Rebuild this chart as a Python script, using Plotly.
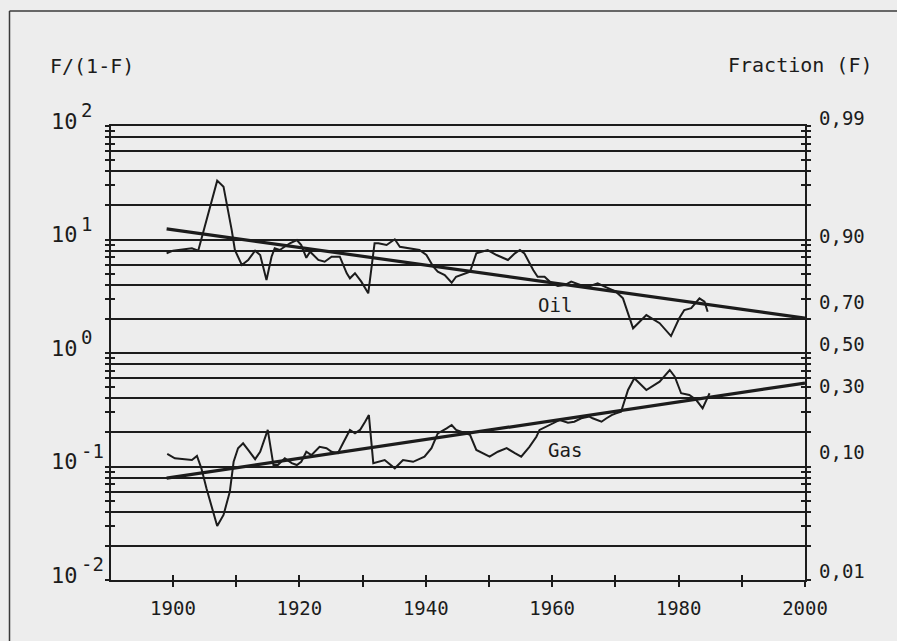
import math
import plotly.graph_objects as go

# ---------------- data ----------------
oil_years = [1899.0, 1900.0, 1903.0, 1904.0, 1907.0, 1908.0, 1909.3, 1909.8, 1910.9, 1911.9,
             1913.0, 1913.8, 1914.8, 1915.6, 1916.1, 1916.9, 1918.5, 1919.6, 1920.3, 1921.1,
             1921.7, 1923.0, 1924.0, 1925.1, 1926.4, 1927.5, 1928.0, 1928.8, 1929.8, 1930.6,
             1930.9, 1931.9, 1932.5, 1933.8, 1935.1, 1935.9, 1937.5, 1939.0, 1940.1, 1941.2,
             1941.9, 1943.0, 1944.1, 1944.8, 1947.0, 1948.0, 1949.8, 1951.2, 1953.0, 1954.1,
             1954.9, 1955.6, 1957.0, 1957.7, 1958.8, 1959.9, 1960.9, 1962.0, 1963.0, 1963.8,
             1964.9, 1965.7, 1967.2, 1968.3, 1969.4, 1970.1, 1971.2, 1972.8, 1974.9, 1977.0,
             1978.8, 1980.1, 1980.9, 1982.0, 1983.3, 1984.1, 1984.6]
oil_values = [7.55, 7.97, 8.37, 7.97, 33.0, 29.2, 12.1, 8.08, 5.96, 6.60,
              7.97, 7.30, 4.40, 7.05, 8.37, 8.08, 9.26, 9.90, 8.94, 6.90,
              7.81, 6.60, 6.37, 7.05, 7.05, 5.04, 4.55, 5.04, 4.25, 3.59,
              3.36, 9.26, 9.26, 8.94, 10.04, 8.64, 8.37, 8.08, 7.30, 5.76,
              5.20, 4.87, 4.16, 4.70, 5.20, 7.55, 8.08, 7.30, 6.60, 7.55,
              8.08, 7.55, 5.39, 4.70, 4.70, 4.11, 3.89, 3.97, 4.25, 4.11,
              3.89, 3.84, 4.11, 3.84, 3.64, 3.47, 3.03, 1.65, 2.16, 1.83,
              1.41, 2.02, 2.39, 2.48, 3.03, 2.83, 2.31]

gas_years = [1899.1, 1900.3, 1903.0, 1903.8, 1904.5, 1905.3, 1907.0, 1908.0, 1909.0, 1909.6,
             1910.3, 1911.1, 1911.9, 1913.0, 1913.8, 1915.0, 1915.9, 1916.6, 1917.7, 1918.8,
             1919.6, 1920.3, 1921.1, 1921.9, 1923.2, 1924.3, 1925.1, 1926.1, 1926.9, 1928.0,
             1928.8, 1929.6, 1930.4, 1931.0, 1931.7, 1932.5, 1933.5, 1935.1, 1936.4, 1938.0,
             1939.8, 1940.9, 1941.9, 1943.3, 1944.1, 1944.8, 1947.0, 1948.0, 1949.1, 1950.1,
             1951.4, 1952.8, 1954.1, 1955.1, 1956.4, 1957.5, 1958.0, 1959.6, 1961.2, 1962.5,
             1963.5, 1964.6, 1965.9, 1966.4, 1967.8, 1968.6, 1969.4, 1970.1, 1970.9, 1972.0,
             1973.0, 1974.9, 1977.0, 1978.6, 1979.4, 1980.4, 1981.7, 1982.8, 1983.8, 1984.4,
             1984.9]
gas_values = [0.129, 0.118, 0.114, 0.124, 0.0964, 0.0643, 0.0299, 0.0374, 0.0600, 0.110,
              0.145, 0.160, 0.140, 0.116, 0.135, 0.210, 0.103, 0.103, 0.118, 0.107,
              0.103, 0.110, 0.135, 0.126, 0.149, 0.145, 0.135, 0.131, 0.160, 0.210,
              0.196, 0.210, 0.248, 0.284, 0.107, 0.110, 0.114, 0.0964, 0.114, 0.110,
              0.122, 0.145, 0.196, 0.217, 0.232, 0.210, 0.190, 0.140, 0.131, 0.122,
              0.135, 0.145, 0.131, 0.122, 0.149, 0.183, 0.210, 0.232, 0.257, 0.243,
              0.248, 0.266, 0.275, 0.266, 0.248, 0.266, 0.284, 0.294, 0.304, 0.472,
              0.599, 0.472, 0.559, 0.708, 0.618, 0.442, 0.427, 0.385, 0.326, 0.385,
              0.442]

oil_trend_years = [1899, 2000]
oil_trend_values = [12.4, 2.03]
gas_trend_years = [1899, 2000]
gas_trend_values = [0.079, 0.544]

x_tick_years = [1900, 1910, 1920, 1930, 1940, 1950, 1960, 1970, 1980, 1990, 2000]
x_tick_labels = ["1900", "", "1920", "", "1940", "", "1960", "", "1980", "", "2000"]
decade_exponents = [2, 1, 0, -1, -2]
fraction_labels = ["0,99", "0,90", "0,70", "0,50", "0,30", "0,10", "0,01"]
fraction_values = [0.99, 0.90, 0.70, 0.50, 0.30, 0.10, 0.01]
grid_multipliers = [1, 2, 4, 6, 8]
series_names = ["Oil", "Gas"]

# ---------------- styling ----------------
INK = "#1c1c1c"
BG = "#ededed"
FONT = "DejaVu Sans Mono"

tick_positions = [m * 10 ** k for k in range(-2, 2) for m in range(1, 10)] + [100]
grid_positions = [m * 10 ** k for k in range(-2, 2) for m in grid_multipliers] + [100]

W, H = 897, 641
L, R, T, B = 111, 92, 126, 61
PW, PH = W - L - R, H - T - B


def px_x(p):
    return (p - L) / PW


def px_y(p):
    return (H - B - p) / PH


fig = go.Figure()

fig.add_trace(go.Scatter(x=oil_years, y=oil_values, mode="lines",
                         line=dict(color=INK, width=2), name=series_names[0],
                         showlegend=False))
fig.add_trace(go.Scatter(x=oil_trend_years, y=oil_trend_values, mode="lines",
                         line=dict(color=INK, width=3.2), showlegend=False))
fig.add_trace(go.Scatter(x=gas_years, y=gas_values, mode="lines",
                         line=dict(color=INK, width=2), name=series_names[1],
                         showlegend=False))
fig.add_trace(go.Scatter(x=gas_trend_years, y=gas_trend_values, mode="lines",
                         line=dict(color=INK, width=3.2), showlegend=False))
# empty traces to register the overlay axes (crossing ticks and grid)
fig.add_trace(go.Scatter(x=[], y=[], xaxis="x2", yaxis="y2", showlegend=False))
fig.add_trace(go.Scatter(x=[], y=[], xaxis="x", yaxis="y3", showlegend=False))

XR = [1890.2, 2000]
YR = [-2, 2]

fig.update_layout(
    width=W, height=H,
    margin=dict(l=L, r=R, t=T, b=B, pad=0),
    paper_bgcolor=BG, plot_bgcolor=BG,
    font=dict(family=FONT, size=19, color=INK),
    showlegend=False,
    xaxis=dict(range=XR, tickmode="array", tickvals=x_tick_years, ticktext=x_tick_labels,
               ticks="outside", ticklen=5, tickwidth=1.8, tickcolor=INK,
               showline=True, linewidth=2, linecolor=INK, mirror=True,
               showgrid=False, zeroline=False, ticklabelstandoff=5,
               tickfont=dict(family=FONT, size=19, color=INK)),
    xaxis2=dict(range=XR, overlaying="x", anchor="y", tickmode="array",
                tickvals=x_tick_years, ticks="inside", ticklen=5, tickwidth=1.8,
                tickcolor=INK, showticklabels=False, showgrid=False, zeroline=False,
                showline=False),
    yaxis=dict(type="log", range=YR, tickmode="array", tickvals=tick_positions,
               ticks="outside", ticklen=4, tickwidth=1.5, tickcolor=INK,
               showticklabels=False, showgrid=False, zeroline=False,
               showline=True, linewidth=2, linecolor=INK, mirror="ticks"),
    yaxis2=dict(type="log", range=YR, overlaying="y", anchor="x", tickmode="array",
                tickvals=tick_positions, ticks="inside", ticklen=4, tickwidth=1.5,
                tickcolor=INK, showticklabels=False, showgrid=False, zeroline=False,
                showline=False, mirror="ticks"),
    yaxis3=dict(type="log", range=YR, overlaying="y", anchor="x", tickmode="array",
                tickvals=grid_positions, ticks="", showticklabels=False,
                showgrid=True, gridcolor=INK, gridwidth=2.2, zeroline=False,
                showline=False),
)

ann = []
# axis titles
ann.append(dict(text="F/(1-F)", xref="paper", yref="paper", x=px_x(48), y=px_y(66),
                xanchor="left", yanchor="middle", showarrow=False,
                font=dict(family=FONT, size=20, color=INK)))
ann.append(dict(text="Fraction (F)", xref="paper", yref="paper", x=px_x(875), y=px_y(65),
                xanchor="right", yanchor="middle", showarrow=False,
                font=dict(family=FONT, size=20, color=INK)))
# left decade labels 10^k
for k in decade_exponents:
    ann.append(dict(text="10", xref="paper", yref="y", x=px_x(80), y=k,
                    xanchor="right", yanchor="middle", yshift=5, showarrow=False,
                    font=dict(family=FONT, size=22, color=INK)))
    ann.append(dict(text=str(k), xref="paper", yref="y", x=px_x(79), y=k,
                    xanchor="left", yanchor="middle", yshift=16, showarrow=False,
                    font=dict(family=FONT, size=19, color=INK)))
# right fraction labels
for lab, f in zip(fraction_labels, fraction_values):
    ann.append(dict(text=lab, xref="paper", yref="y", x=px_x(817),
                    y=math.log10(f / (1 - f)), xanchor="left", yanchor="middle",
                    yshift=9, showarrow=False,
                    font=dict(family=FONT, size=19, color=INK)))
# series labels
ann.append(dict(text=series_names[0], x=1960.5, y=math.log10(2.65), xref="x", yref="y",
                showarrow=False, font=dict(family=FONT, size=19, color=INK)))
ann.append(dict(text=series_names[1], x=1962.0, y=math.log10(0.14), xref="x", yref="y",
                showarrow=False, font=dict(family=FONT, size=19, color=INK)))
fig.update_layout(annotations=ann)

# outer frame of the figure box (only its top and left edges are in view)
frame = dict(color="#3a3a3a", width=1.5)
fig.add_shape(type="line", xref="paper", yref="paper",
              x0=px_x(9.5), x1=px_x(W + 20), y0=px_y(11), y1=px_y(11),
              line=frame, layer="below")
fig.add_shape(type="line", xref="paper", yref="paper",
              x0=px_x(9.5), x1=px_x(9.5), y0=px_y(11), y1=px_y(H + 20),
              line=frame, layer="below")

fig.write_html(
    "out.html",
    config={"displayModeBar": False},
    post_script=("document.documentElement.style.margin='0';"
                 "document.documentElement.style.overflow='hidden';"
                 "document.documentElement.style.background='" + BG + "';"
                 "document.body.style.margin='0';document.body.style.padding='0';"
                 "document.body.style.overflow='hidden';"
                 "document.body.style.background='" + BG + "';"),
)
